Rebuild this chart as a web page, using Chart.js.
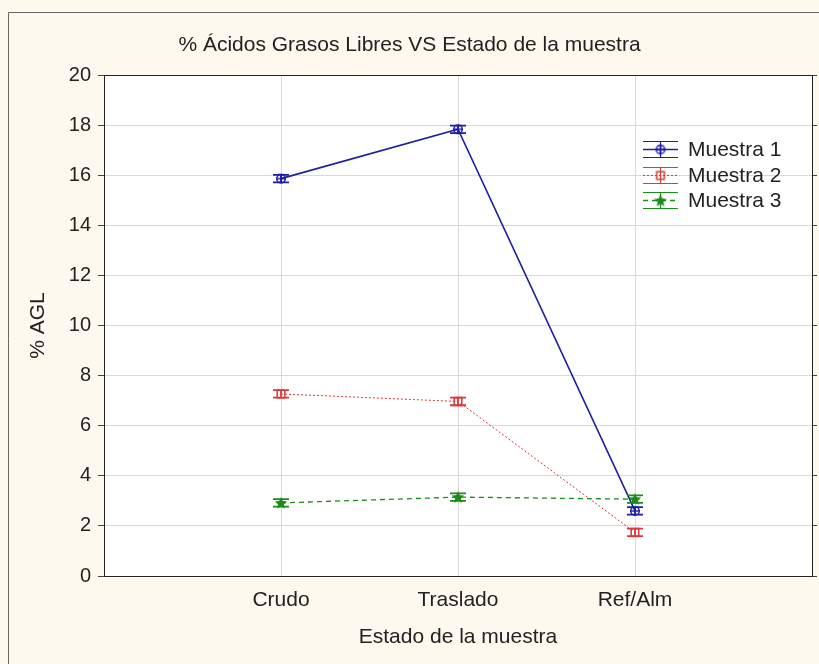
<!DOCTYPE html>
<html><head><meta charset="utf-8">
<script src="https://cdn.jsdelivr.net/npm/chart.js@4/dist/chart.umd.min.js"></script>
<style>html,body{margin:0;padding:0;background:#fdf9ef;} canvas{display:block}</style>
</head><body>
<canvas id="c" width="819" height="664"></canvas>
<script>
const categories = ['Crudo', 'Traslado', 'Ref/Alm'];
const seriesNames = ['Muestra 1', 'Muestra 2', 'Muestra 3'];
const muestra1 = [15.87, 17.84, 2.60];
const muestra2 = [7.27, 6.97, 1.74];
const muestra3 = [2.92, 3.15, 3.07];
const error1 = [0.15, 0.15, 0.15];
const error2 = [0.15, 0.15, 0.15];
const error3 = [0.15, 0.15, 0.15];
const yTicks = [0, 2, 4, 6, 8, 10, 12, 14, 16, 18, 20];

const FONT = "'Liberation Sans', Arial, sans-serif";
const TEXT = '#222';
const BLUE = '#1f1fa3', RED = '#d93a3a', GREEN = '#198c19';

function makeMarker(kind, color) {
  const c = document.createElement('canvas');
  c.width = 14; c.height = 14;
  const g = c.getContext('2d');
  g.strokeStyle = color; g.fillStyle = color; g.lineWidth = 1.5;
  if (kind === 'circle') {
    g.beginPath(); g.arc(7, 7, 4.3, 0, Math.PI * 2); g.stroke();
    g.beginPath(); g.moveTo(2.5, 7); g.lineTo(11.5, 7); g.moveTo(7, 2.5); g.lineTo(7, 11.5); g.stroke();
  } else if (kind === 'square') {
    g.strokeRect(3.2, 3.2, 7.6, 7.6);
  } else {
    g.beginPath();
    for (let k = 0; k < 10; k++) {
      const r = k % 2 === 0 ? 6.5 : 3;
      const a = -Math.PI / 2 + k * Math.PI / 5;
      const px = 7 + r * Math.cos(a), py = 7.5 + r * Math.sin(a);
      k === 0 ? g.moveTo(px, py) : g.lineTo(px, py);
    }
    g.closePath(); g.fill();
  }
  return c;
}
const markers = [makeMarker('circle', BLUE), makeMarker('square', RED), makeMarker('star', GREEN)];
const colors = [BLUE, RED, GREEN];
const dashes = [[], [2, 2], [5, 4]];
const widths = [1.6, 1, 1.3];
const values = [muestra1, muestra2, muestra3];
const errors = [error1, error2, error3];

const datasets = values.map((vals, s) => ({
  label: seriesNames[s],
  data: vals.map((v, i) => ({ x: i + 1, y: v })),
  errors: errors[s],
  borderColor: colors[s],
  backgroundColor: colors[s],
  borderWidth: widths[s],
  borderDash: dashes[s],
  pointStyle: markers[s],
  pointRadius: 5,
  tension: 0,
  fill: false
}));

const bgPlugin = {
  id: 'bg',
  beforeDraw(chart) {
    const { ctx, chartArea: a } = chart;
    ctx.save();
    ctx.fillStyle = '#fdf9ef';
    ctx.fillRect(0, 0, chart.width, chart.height);
    ctx.strokeStyle = '#666'; ctx.lineWidth = 1;
    ctx.beginPath();
    ctx.moveTo(8.5, chart.height); ctx.lineTo(8.5, 12.5); ctx.lineTo(chart.width, 12.5);
    ctx.stroke();
    ctx.fillStyle = '#ffffff';
    ctx.fillRect(a.left, a.top, a.right - a.left, a.bottom - a.top);
    ctx.restore();
  },
  afterDatasetsDraw(chart) {
    const { ctx, chartArea: a } = chart;
    const ys = chart.scales.y;
    ctx.save();
    chart.data.datasets.forEach((ds, s) => {
      const meta = chart.getDatasetMeta(s);
      ctx.strokeStyle = ds.borderColor; ctx.lineWidth = 1.8; ctx.setLineDash([]);
      meta.data.forEach((pt, i) => {
        const v = ds.data[i].y, e = ds.errors[i];
        const yt = ys.getPixelForValue(v + e), yb = ys.getPixelForValue(v - e);
        ctx.beginPath();
        ctx.moveTo(pt.x, yt); ctx.lineTo(pt.x, yb);
        ctx.moveTo(pt.x - 8, yt); ctx.lineTo(pt.x + 8, yt);
        ctx.moveTo(pt.x - 8, yb); ctx.lineTo(pt.x + 8, yb);
        ctx.stroke();
      });
    });
    ctx.strokeStyle = '#222'; ctx.lineWidth = 1;
    ctx.strokeRect(Math.round(a.left) + 0.5, Math.round(a.top) + 0.5, Math.round(a.right - a.left), Math.round(a.bottom - a.top));
    const lx0 = a.left + 539, lx1 = a.left + 574, tx = a.left + 584, ly0 = a.top + 74, dy = 25.5;
    ctx.font = '21px ' + FONT; ctx.textBaseline = 'middle'; ctx.fillStyle = TEXT;
    chart.data.datasets.forEach((ds, s) => {
      const y = Math.round(ly0 + s * dy) + 0.5;
      const cx = (lx0 + lx1) / 2;
      ctx.strokeStyle = ds.borderColor; ctx.lineWidth = 1.2;
      ctx.setLineDash([]);
      ctx.beginPath();
      ctx.moveTo(lx0, y - 8); ctx.lineTo(lx1, y - 8);
      ctx.moveTo(lx0, y + 8); ctx.lineTo(lx1, y + 8);
      ctx.moveTo(cx, y - 8); ctx.lineTo(cx, y + 8);
      ctx.stroke();
      ctx.setLineDash(ds.borderDash); ctx.lineWidth = ds.borderWidth;
      ctx.beginPath(); ctx.moveTo(lx0, y); ctx.lineTo(lx1, y); ctx.stroke();
      ctx.setLineDash([]);
      ctx.drawImage(markers[s], cx - 7, y - 7);
      ctx.fillText(ds.label, tx, y + 1);
    });
    ctx.restore();
  }
};

new Chart(document.getElementById('c'), {
  type: 'line',
  data: { datasets },
  plugins: [bgPlugin],
  options: {
    responsive: false,
    animation: false,
    devicePixelRatio: 1,
    layout: { padding: { left: 0, right: 0, top: 0, bottom: 0 } },
    plugins: {
      legend: { display: false },
      tooltip: { enabled: false },
      title: {
        display: true,
        text: '% Ácidos Grasos Libres VS Estado de la muestra',
        color: TEXT,
        font: { family: FONT, size: 21, weight: 'normal' },
        padding: { top: 33, bottom: 17 }
      }
    },
    scales: {
      x: {
        type: 'linear', min: 0, max: 4,
        afterBuildTicks: sc => { sc.ticks = categories.map((c, i) => ({ value: i + 1 })); },
        afterFit: sc => { sc.height = 88; },
        ticks: {
          callback: v => categories[v - 1] ?? '',
          color: TEXT, font: { family: FONT, size: 21 }, padding: 12, maxRotation: 0, autoSkip: false
        },
        grid: { color: '#d9d9d9', drawTicks: false },
        border: { display: false },
        title: {
          display: true, text: 'Estado de la muestra', color: TEXT,
          font: { family: FONT, size: 21 }, padding: { top: 0, bottom: 14 }
        }
      },
      y: {
        type: 'linear', min: 0, max: 20, position: 'left',
        afterBuildTicks: sc => { sc.ticks = yTicks.map(v => ({ value: v })); },
        afterFit: sc => { sc.width = 104; },
        ticks: { color: TEXT, font: { family: FONT, size: 20 }, padding: 7 },
        grid: { color: '#d9d9d9', tickColor: '#444', tickLength: 6 },
        border: { display: false },
        title: {
          display: true, text: '% AGL', color: TEXT,
          font: { family: FONT, size: 21 }, padding: { top: 26, bottom: 0 }
        }
      },
      y2: {
        type: 'linear', min: 0, max: 20, position: 'right',
        afterBuildTicks: sc => { sc.ticks = yTicks.map(v => ({ value: v })); },
        afterFit: sc => { sc.width = 7; },
        ticks: { display: false },
        grid: { drawOnChartArea: false, tickColor: '#444', tickLength: 5 },
        border: { display: false }
      }
    }
  }
});
</script>
</body></html>
